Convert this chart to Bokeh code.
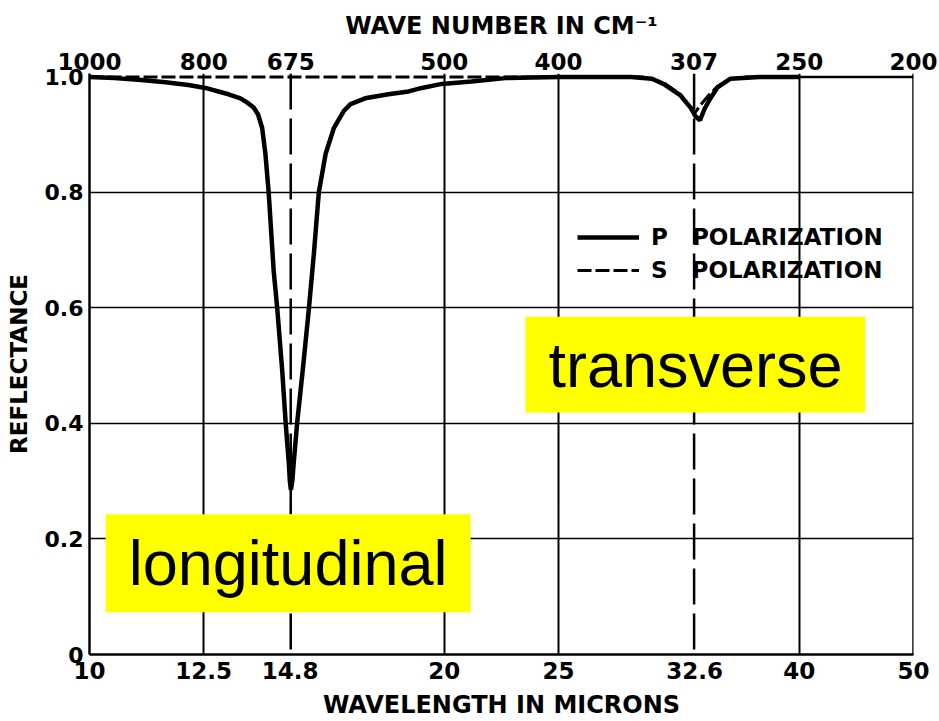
from bokeh.plotting import figure
from bokeh.models import (Range1d, LogAxis, FixedTicker, Span, Legend, LegendItem,
                          BoxAnnotation, Label)
from bokeh.embed import file_html
from bokeh.resources import INLINE

# ---------------- data ----------------
wavelength_ticks = [10, 12.5, 14.8, 20, 25, 32.6, 40, 50]
wavelength_labels = ["10", "12.5", "14.8", "20", "25", "32.6", "40", "50"]
wavenumber_ticks = [1000, 800, 675, 500, 400, 307, 250, 200]
reflectance_ticks = [0, 0.2, 0.4, 0.6, 0.8, 1.0]
reflectance_labels = ["0", "0.2", "0.4", "0.6", "0.8", "1.0"]
mode_wavenumbers = [675, 307]
mode_names = ["longitudinal", "transverse"]

p_wavelength = [10.0, 10.5, 11.0, 11.6, 12.13, 12.54, 13.12, 13.43, 13.6, 13.78,
                13.9, 14.01, 14.10, 14.19, 14.33, 14.43, 14.57, 14.67, 14.76, 14.79,
                14.82, 14.86, 14.90, 15.00, 15.18, 15.35, 15.50, 15.65, 15.86, 16.12,
                16.43, 16.65, 17.13, 17.93, 18.65, 19.14, 19.90, 21.09, 22.52, 25.0,
                28.8, 30.0, 30.68, 31.72, 32.35, 32.66, 32.95, 33.25, 33.6, 34.1,
                34.97, 37.0, 40.0]
p_reflectance = [1.0, 0.998, 0.995, 0.991, 0.986, 0.981, 0.970, 0.963, 0.956, 0.947,
                 0.935, 0.912, 0.867, 0.800, 0.664, 0.599, 0.492, 0.400, 0.331, 0.300,
                 0.285, 0.300, 0.331, 0.400, 0.500, 0.599, 0.694, 0.800, 0.867, 0.912,
                 0.941, 0.953, 0.963, 0.970, 0.975, 0.981, 0.988, 0.992, 0.998, 1.0,
                 1.0, 0.997, 0.988, 0.968, 0.947, 0.932, 0.925, 0.945, 0.962, 0.982,
                 0.997, 1.0, 1.0]

s_wavelength = [10.0, 12.0, 15.0, 20.0, 25.0, 29.5, 30.7, 31.7, 32.3, 32.6,
                33.0, 33.5, 34.1, 35.0, 36.0, 40.0]
s_reflectance = [1.0, 1.0, 1.0, 1.0, 1.0, 1.0, 0.99, 0.97, 0.948, 0.937,
                 0.952, 0.968, 0.984, 0.997, 1.0, 1.0]

FONT = "DejaVu Sans"

p = figure(width=939, height=721, x_axis_type="log",
           x_range=Range1d(10, 50), y_range=Range1d(0, 1.006),
           output_backend="svg", toolbar_location=None,
           min_border_left=89, min_border_right=26,
           min_border_top=73, min_border_bottom=67)
p.outline_line_color = None
p.background_fill_color = "white"
p.border_fill_color = "white"

def style_axis(ax, size):
    ax.major_tick_in = 0
    ax.major_tick_out = 0
    ax.minor_tick_in = 0
    ax.minor_tick_out = 0
    ax.major_label_text_font = FONT
    ax.major_label_text_font_style = "bold"
    ax.major_label_text_font_size = size
    ax.major_label_text_color = "black"
    ax.axis_label_text_font = FONT
    ax.axis_label_text_font_style = "bold"
    ax.axis_label_text_color = "black"
    ax.axis_line_color = "black"
    ax.axis_line_width = 2.5

# bottom axis: wavelength
xa = p.xaxis[0]
xa.ticker = FixedTicker(ticks=wavelength_ticks, minor_ticks=[])
xa.major_label_overrides = {t: l for t, l in zip(wavelength_ticks, wavelength_labels)}
style_axis(xa, "23px")
xa.axis_label = "WAVELENGTH IN MICRONS"
xa.axis_label_text_font_size = "24px"
xa.major_label_standoff = 7
xa.axis_label_standoff = 9

# top axis: wave number
top_pos = [10000.0 / w for w in wavenumber_ticks]
top = LogAxis(ticker=FixedTicker(ticks=top_pos, minor_ticks=[]))
top.major_label_overrides = {t: str(w) for t, w in zip(top_pos, wavenumber_ticks)}
style_axis(top, "23px")
top.axis_line_color = None
top.axis_label = "WAVE NUMBER IN CM\u207b\u00b9"
top.axis_label_text_font_size = "24px"
top.major_label_standoff = 4
top.axis_label_standoff = 10
p.add_layout(top, "above")

# left axis: reflectance
ya = p.yaxis[0]
ya.ticker = FixedTicker(ticks=reflectance_ticks, minor_ticks=[])
ya.major_label_overrides = {t: l for t, l in zip(reflectance_ticks, reflectance_labels)}
style_axis(ya, "22px")
ya.axis_label = "REFLECTANCE"
ya.axis_label_text_font_size = "23px"
ya.major_label_standoff = 6
ya.axis_label_standoff = 10

# grids
mode_wl = [10000.0 / w for w in mode_wavenumbers]
grid_x = [t for t in wavelength_ticks[1:-1] if all(abs(t - m) > 0.2 for m in mode_wl)]
p.xgrid[0].ticker = FixedTicker(ticks=grid_x, minor_ticks=[])
p.ygrid[0].ticker = FixedTicker(ticks=reflectance_ticks[1:-1], minor_ticks=[])
p.xgrid[0].grid_line_color = "black"
p.xgrid[0].grid_line_width = 2
p.ygrid[0].grid_line_color = "black"
p.ygrid[0].grid_line_width = 1.6

# frame pieces: right border and top border beyond the data
p.add_layout(Span(location=wavelength_ticks[-1], dimension="height",
                  line_color="black", line_width=2.5))
p.segment(x0=[wavelength_ticks[-2]], x1=[wavelength_ticks[-1]],
          y0=[reflectance_ticks[-1]], y1=[reflectance_ticks[-1]],
          line_color="black", line_width=2.5)

# dashed marker lines at the mode frequencies
for m in mode_wl:
    p.add_layout(Span(location=m, dimension="height", line_color="black",
                      line_width=2.5, line_dash="36 9"))

r_s = p.line(s_wavelength, s_reflectance, line_color="black", line_width=3,
             line_dash="14 4")
r_p = p.line(p_wavelength, p_reflectance, line_color="black", line_width=4.5)

nb = "\u00a0"
legend = Legend(items=[LegendItem(label="P" + nb * 3 + "POLARIZATION", renderers=[r_p]),
                       LegendItem(label="S" + nb * 3 + "POLARIZATION", renderers=[r_s])],
                location=(488, 370))
legend.border_line_color = None
legend.background_fill_alpha = 0
legend.padding = 0
legend.margin = 0
legend.spacing = 5
legend.glyph_width = 62
legend.glyph_height = 28
legend.label_height = 28
legend.label_standoff = 12
legend.label_text_font = FONT
legend.label_text_font_style = "bold"
legend.label_text_font_size = "23px"
legend.label_text_color = "black"
p.add_layout(legend)

# yellow annotation boxes
boxes = [
    dict(left=10.32, right=21.05, bottom=0.073, top=0.243, cx=14.74, cy=0.158),
    dict(left=23.43, right=45.5, bottom=0.419, top=0.585, cx=32.66, cy=0.502),
]
for name, b in zip(mode_names, boxes):
    p.add_layout(BoxAnnotation(left=b["left"], right=b["right"], bottom=b["bottom"],
                               top=b["top"], fill_color="#ffff00", fill_alpha=1.0,
                               line_color=None))
    p.add_layout(Label(x=b["cx"], y=b["cy"], text=name, text_align="center",
                       text_baseline="middle", text_font="Liberation Sans",
                       text_font_size="63px", text_color="black"))

open("out.html", "w").write(file_html(p, INLINE))
